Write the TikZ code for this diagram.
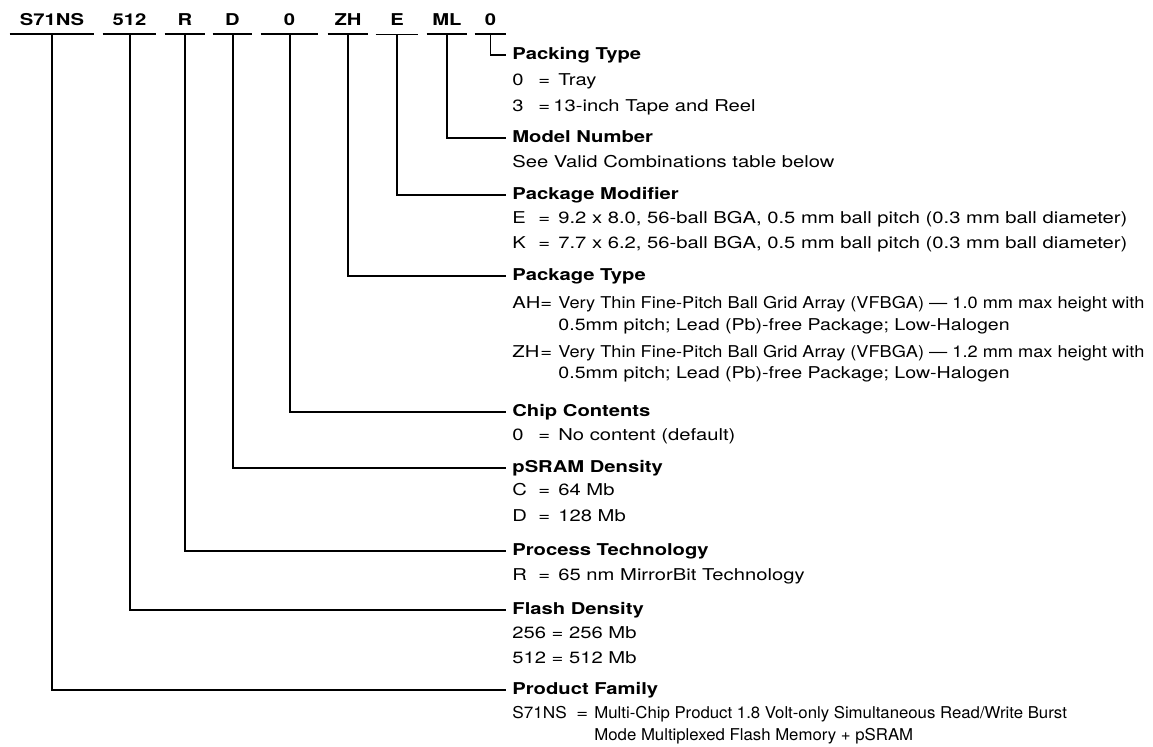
\documentclass[tikz,border=0pt]{standalone}
\usepackage{fontspec}
\setmainfont{TeX Gyre Heros}[FakeStretch=1.24]
\usetikzlibrary{positioning}

% code column: key, equals sign, meaning
\newcommand\pncode[2]{\makebox[13pt][l]{#1}\makebox[10pt][l]{=}#2}

\begin{document}
\begin{tikzpicture}[
  x=0.5pt,y=-0.5pt,
  font=\fontsize{8.15}{10}\selectfont,
  field/.style={font=\fontsize{8.15}{10}\selectfont\bfseries, inner sep=0pt,
                anchor=base, text height=6pt, text depth=4pt},
  bar/.style={line width=1pt},
  thinbar/.style={line width=0.55pt},
  heading/.style={font=\fontsize{8.15}{10}\selectfont\bfseries, anchor=west,
                  inner xsep=3pt, inner ysep=0pt,
                  text height=0.7em, text depth=0.25em},
  entry/.style={anchor=base west, inner sep=0pt}
]
\useasboundingbox (0,0) rectangle (1153,747);

% Ordering code fields.
\node[field, minimum width=42pt]   (fam)  at (52,26)    {S71NS};
\node[field, minimum width=26.5pt] (fls)  at (129.5,26) {512};
\node[field, minimum width=20pt]   (prc)  at (185,26)   {R};
\node[field, minimum width=19.5pt] (psr)  at (232.5,26) {D};
\node[field, minimum width=28.5pt] (chp)  at (289.5,26) {0};
\node[field, minimum width=20pt]   (pty)  at (348,26)   {ZH};
\node[field, minimum width=21pt]   (pmd)  at (397,26)   {E};
\node[field, minimum width=20pt]   (mdl)  at (447,26)   {ML};
\node[field, minimum width=15.5pt] (pck)  at (490.5,26) {0};

\foreach \f in {fam,fls,prc,psr,chp,pty,mdl,pck}
  \draw[bar] (\f.south west) -- (\f.south east);
\draw[thinbar] (pmd.south west) -- (pmd.south east);

% Field descriptions.
\node[heading] (tpck) at (506,55) {Packing Type};
\node[entry] (pck0) at (512,86)  {\pncode{0}{Tray}};
\node[entry] (pck3) at (512,112) {\makebox[13pt][l]{3}\makebox[7.5pt][l]{=}13-inch Tape and Reel};

\node[heading] (tmdl) at (506,138) {Model Number};
\node[entry] (mdl1) at (512,168) {See Valid Combinations table below};

\node[heading] (tpmd) at (506,195) {Package Modifier};
\node[entry] (pmde) at (512,224) {\pncode{E}{9.2 x 8.0, 56-ball BGA, 0.5 mm ball pitch (0.3 mm ball diameter)}};
\node[entry] (pmdk) at (512,249) {\pncode{K}{7.7 x 6.2, 56-ball BGA, 0.5 mm ball pitch (0.3 mm ball diameter)}};

\node[heading] (tpty) at (506,276) {Package Type};
\node[entry] (ptya) at (512,309) {\makebox[14pt][l]{AH}\makebox[9pt][l]{=}\scalebox{0.9}[1]{Very Thin Fine-Pitch Ball Grid Array (VFBGA) — 1.0 mm max height with}};
\node[entry] (ptya2) at (512,331) {\hspace*{23pt}\scalebox{0.97}[1]{0.5mm pitch; Lead (Pb)-free Package; Low-Halogen}};
\node[entry] (ptyz) at (512,358) {\makebox[14pt][l]{ZH}\makebox[9pt][l]{=}\scalebox{0.9}[1]{Very Thin Fine-Pitch Ball Grid Array (VFBGA) — 1.2 mm max height with}};
\node[entry] (ptyz2) at (512,379) {\hspace*{23pt}\scalebox{0.97}[1]{0.5mm pitch; Lead (Pb)-free Package; Low-Halogen}};

\node[heading] (tchp) at (506,412) {Chip Contents};
\node[entry] (chp0) at (512,441) {\pncode{0}{No content (default)}};

\node[heading] (tpsr) at (506,468) {pSRAM Density};
\node[entry] (psrc) at (512,496) {\pncode{C}{64 Mb}};
\node[entry] (psrd) at (512,522) {\pncode{D}{128 Mb}};

\node[heading] (tprc) at (506,551) {Process Technology};
\node[entry] (prcr) at (512,581) {\pncode{R}{65 nm MirrorBit Technology}};

\node[heading] (tfls) at (506,610) {Flash Density};
\node[entry] (fls256) at (512,639) {256 = 256 Mb};
\node[entry] (fls512) at (512,664) {512 = 512 Mb};

\node[heading] (tfam) at (506,690) {Product Family};
\node[entry] (fams) at (512,719) {\makebox[32pt][l]{\scalebox{0.85}[1]{S71NS}}\makebox[9pt][l]{=}\scalebox{0.83}[1]{Multi-Chip Product 1.8 Volt-only Simultaneous Read/Write Burst}};
\node[entry] (fams2) at (512,741) {\hspace*{41pt}\scalebox{0.83}[1]{Mode Multiplexed Flash Memory + pSRAM}};

% Leaders from each field down to its description.
\draw[thinbar] (pck.south) |- (tpck.west);
\draw[bar] (mdl.south) |- (tmdl.west);
\draw[thinbar] (pmd.south) |- (tpmd.west);
\draw[bar] (pty.south) |- (tpty.west);
\draw[bar] (chp.south) |- (tchp.west);
\draw[bar] (psr.south) |- (tpsr.west);
\draw[bar] (prc.south) |- (tprc.west);
\draw[bar] (fls.south) |- (tfls.west);
\draw[bar] (fam.south) |- (tfam.west);

\end{tikzpicture}
\end{document}
